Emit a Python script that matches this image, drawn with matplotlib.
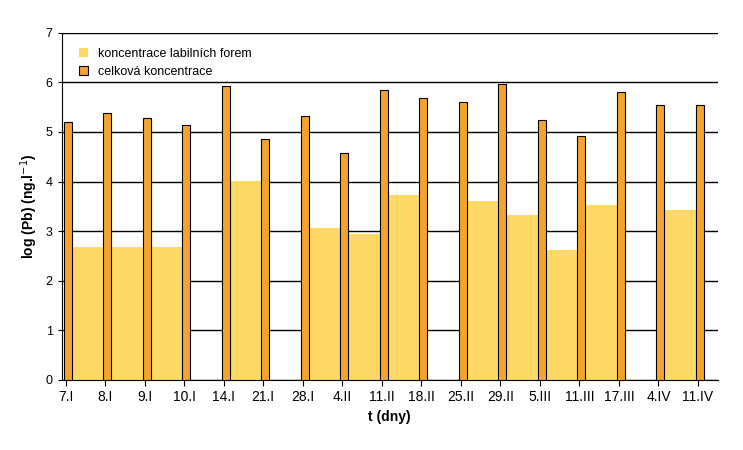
import matplotlib.pyplot as plt
import numpy as np

dates = ['7.I', '8.I', '9.I', '10.I', '14.I', '21.I', '28.I', '4.II', '11.II',
         '18.II', '25.II', '29.II', '5.III', '11.III', '17.III', '4.IV', '11.IV']
labilni = [2.67, 2.67, 2.67, 0, 4.02, 0, 3.07, 2.95, 3.72, 0, 3.60, 3.33,
           2.62, 3.52, 0, 3.42, 0]
celkova = [5.20, 5.38, 5.28, 5.15, 5.93, 4.85, 5.32, 4.57, 5.85, 5.68, 5.60,
           5.97, 5.25, 4.92, 5.80, 5.55, 5.55]

plt.rcParams['font.family'] = 'Liberation Sans'
fig = plt.figure(figsize=(7.43, 4.5), dpi=100)
ax = fig.add_axes([0.083, 0.156, 0.883, 0.771])

x = np.arange(len(dates))
ax.bar(x + 0.15, labilni, width=0.8, align='edge', color='#FFD966',
       label='koncentrace labilních forem', zorder=2)
ax.bar(x + 0.05, celkova, width=0.2, color='#F5A32F', edgecolor='black',
       linewidth=0.8, label='celková koncentrace', zorder=3)

ax.set_xlim(-0.1, len(dates) - 0.5)
ax.set_ylim(0, 7)
ax.set_yticks(range(8))
ax.yaxis.grid(True, color='black', linewidth=1, zorder=1)
ax.set_axisbelow(True)
ax.set_xticks(x)
ax.set_xticklabels(dates, fontsize=10)
ax.tick_params(axis='y', labelsize=9, length=3)
ax.tick_params(axis='x', length=4)
for s in ['top', 'right']:
    ax.spines[s].set_visible(False)

ax.set_ylabel('log (Pb) (ng.l$^{-1}$)', fontsize=10, fontweight='bold')
ax.set_xlabel('t (dny)', fontsize=10, fontweight='bold')
ax.legend(loc='upper left', frameon=False, fontsize=9, handlelength=0.7,
          handleheight=0.7, bbox_to_anchor=(0.01, 0.99))

fig.savefig('out.png', dpi=100)
